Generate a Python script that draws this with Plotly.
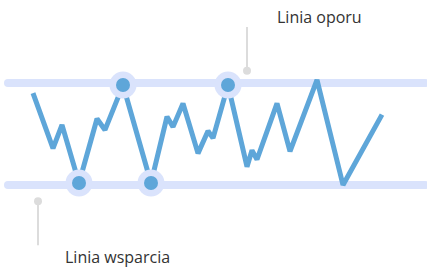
import plotly.graph_objects as go

# Price path (time units, price level where support=0 and resistance=100)
t = [0, 20, 29, 46, 64, 72, 90, 118, 134, 140, 150, 165, 175, 180, 195, 214, 219, 224, 244, 257, 284, 310, 349]
price = [90, 36, 59, 2, 65, 54, 98, 2, 67, 57, 80, 31, 53, 46, 98, 18, 34, 25, 80, 33, 103, 0, 69]
touch_idx = [3, 6, 7, 14]

support_level = 0
resistance_level = 100
band_t = [-25, 392]

labels = ["Linia oporu", "Linia wsparcia"]

band_color = "#dae3fc"
line_color = "#5ea6d9"
lead_color = "#dcdcdc"

fig = go.Figure()

for lvl in (resistance_level, support_level):
    fig.add_trace(go.Scatter(x=band_t, y=[lvl, lvl], mode="lines+markers",
                             line=dict(color=band_color, width=8),
                             marker=dict(color=band_color, size=8),
                             hoverinfo="skip", showlegend=False))

fig.add_trace(go.Scatter(x=t, y=price, mode="lines",
                         line=dict(color=line_color, width=5),
                         hoverinfo="skip", showlegend=False))

tx = [t[i] for i in touch_idx]
ty = [price[i] for i in touch_idx]
fig.add_trace(go.Scatter(x=tx, y=ty, mode="markers",
                         marker=dict(color=band_color, size=27),
                         hoverinfo="skip", showlegend=False))
fig.add_trace(go.Scatter(x=tx, y=ty, mode="markers",
                         marker=dict(color=line_color, size=14),
                         hoverinfo="skip", showlegend=False))

# leader lines
fig.add_trace(go.Scatter(x=[214, 214], y=[155, 112], mode="lines",
                         line=dict(color=lead_color, width=2),
                         hoverinfo="skip", showlegend=False))
fig.add_trace(go.Scatter(x=[214], y=[112], mode="markers",
                         marker=dict(color=lead_color, size=8),
                         hoverinfo="skip", showlegend=False))
fig.add_trace(go.Scatter(x=[5, 5], y=[-16, -59], mode="lines",
                         line=dict(color=lead_color, width=2),
                         hoverinfo="skip", showlegend=False))
fig.add_trace(go.Scatter(x=[5], y=[-16], mode="markers",
                         marker=dict(color=lead_color, size=8),
                         hoverinfo="skip", showlegend=False))

fig.add_annotation(x=286, y=164.5, text=labels[0], showarrow=False,
                   font=dict(size=16, color="#333333", family="Open Sans"))
fig.add_annotation(x=84, y=-70.5, text=labels[1], showarrow=False,
                   font=dict(size=16, color="#333333", family="Open Sans"))

fig.update_layout(
    width=427, height=267,
    margin=dict(l=0, r=0, t=0, b=0),
    paper_bgcolor="white", plot_bgcolor="white",
    xaxis=dict(range=[-33, 394], visible=False, fixedrange=True),
    yaxis=dict(range=[-80.4, 181.4], visible=False, fixedrange=True),
)

fig.write_html("out.html", config={"displayModeBar": False},
               post_script="document.body.style.margin='0';document.body.style.overflow='hidden';")
